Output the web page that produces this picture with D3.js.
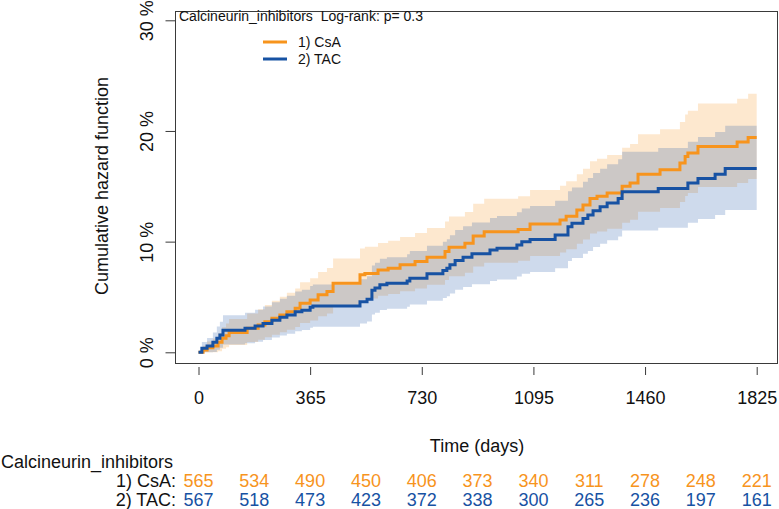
<!DOCTYPE html>
<html><head><meta charset="utf-8">
<script src="https://cdn.jsdelivr.net/npm/d3@7"></script>
<style>body{margin:0;background:#fff}svg{display:block;font-family:"Liberation Sans",Arial,sans-serif}</style>
</head><body>
<svg id="chart" width="779" height="509"></svg>
<script>
const groupTitle = "Calcineurin_inhibitors";
const pText = "Log-rank: p= 0.3";
const seriesNames = ["1) CsA", "2) TAC"];
const xTicks = [0, 365, 730, 1095, 1460, 1825];
const yTicks = [0, 10, 20, 30];
const maxTime = 1825;

const csaTime = [0,15,28,47,64,77,90,100,159,195,217,240,266,289,316,332,365,391,420,440,528,544,587,620,659,708,747,806,819,871,898,934,1045,1084,1182,1202,1237,1257,1280,1303,1336,1385,1411,1437,1509,1574,1591,1600,1633,1761,1797];
const csaHaz = [0,0.2,0.4,0.57,0.9,1.26,1.5,1.8,2.17,2.47,2.77,3.07,3.37,3.67,3.97,4.43,4.73,5.2,5.5,6.23,7.0,7.13,7.43,7.6,7.9,8.2,8.6,9.1,9.5,9.85,10.5,10.9,11.1,11.6,11.95,12.3,12.85,13.3,13.9,14.1,14.4,15.0,15.3,16.1,16.5,17.1,17.7,18.0,18.6,19.0,19.4];
const csaUpper = [0,0.6,0.97,1.25,1.75,2.27,2.6,3.0,3.5,3.88,4.27,4.65,5.02,5.39,5.76,6.32,6.69,7.25,7.61,8.48,9.38,9.53,9.88,10.08,10.43,10.78,11.24,11.81,12.27,12.67,13.42,13.87,14.1,14.67,15.06,15.46,16.08,16.58,17.26,17.48,17.82,18.49,18.82,19.71,20.16,20.82,21.49,21.82,22.48,22.92,23.36];
const csaLower = [0,0,0,0,0.09,0.31,0.46,0.66,0.92,1.13,1.36,1.58,1.81,2.04,2.28,2.64,2.88,3.26,3.51,4.11,4.75,4.86,5.11,5.26,5.51,5.77,6.11,6.54,6.88,7.18,7.75,8.09,8.27,8.71,9.01,9.32,9.8,10.2,10.73,10.91,11.17,11.71,11.98,12.69,13.05,13.59,14.12,14.39,14.93,15.29,15.66];

const tacTime = [0,11,28,47,60,70,80,152,185,211,240,266,289,316,338,365,374,528,551,567,577,593,616,682,691,747,799,812,822,839,865,894,953,976,1041,1057,1084,1166,1208,1221,1257,1273,1290,1313,1336,1372,1385,1503,1600,1633,1689,1722];
const tacHaz = [0,0.36,0.57,0.9,1.26,1.56,2.0,2.17,2.38,2.6,2.9,3.16,3.37,3.67,3.8,4.07,4.18,4.57,4.8,5.6,5.8,6.1,6.23,6.45,6.7,7.1,7.4,7.6,7.9,8.3,8.6,8.9,9.24,9.4,9.7,10.0,10.2,10.6,11.35,11.65,12.1,12.4,12.8,13.15,13.5,13.9,14.5,14.8,15.3,15.7,16.1,16.6];
const tacUpper = [0,0.93,1.29,1.8,2.33,2.75,3.34,3.57,3.85,4.13,4.52,4.85,5.11,5.49,5.65,5.99,6.12,6.6,6.88,7.85,8.09,8.45,8.6,8.86,9.16,9.63,9.98,10.22,10.57,11.04,11.39,11.73,12.13,12.31,12.66,13.0,13.23,13.69,14.55,14.89,15.4,15.75,16.2,16.59,16.99,17.44,18.12,18.45,19.02,19.46,19.91,20.47];
const tacLower = [0,0,0,0.03,0.23,0.41,0.7,0.81,0.96,1.12,1.33,1.52,1.68,1.91,2.01,2.21,2.3,2.6,2.78,3.42,3.58,3.83,3.93,4.11,4.32,4.65,4.9,5.06,5.31,5.65,5.9,6.16,6.44,6.58,6.84,7.09,7.26,7.6,8.25,8.51,8.9,9.16,9.51,9.81,10.12,10.47,11.0,11.26,11.7,12.05,12.41,12.85];

const riskTimes = [0,182.5,365,547.5,730,912.5,1095,1277.5,1460,1642.5,1825];
const csaRisk = [565,534,490,450,406,373,340,311,278,248,221];
const tacRisk = [567,518,473,423,372,338,300,265,236,197,161];

const colors = ["#F7941D", "#1752A3"];

const svg = d3.select("#chart");
const x = d3.scaleLinear().domain([0, maxTime]).range([198.5, 756.7]);
const y = d3.scaleLinear().domain([0, 30]).range([352.3, 20.3]);
const box = {l: 175.5, r: 777.5, t: 11.5, b: 363.5};

function pts(t, v) {
  const a = t.map((d, i) => ({t: d, v: v[i]}));
  a.push({t: maxTime, v: v[v.length - 1]});
  return a;
}
function bandPts(t, lo, hi) {
  const a = t.map((d, i) => ({t: d, lo: lo[i], hi: hi[i]}));
  a.push({t: maxTime, lo: lo[lo.length - 1], hi: hi[hi.length - 1]});
  return a;
}
const area = d3.area().curve(d3.curveStepAfter).x(d => x(d.t)).y0(d => y(d.lo)).y1(d => y(d.hi));
const line = d3.line().curve(d3.curveStepAfter).x(d => x(d.t)).y(d => y(d.v));

const series = [
  {time: csaTime, haz: csaHaz, lo: csaLower, hi: csaUpper},
  {time: tacTime, haz: tacHaz, lo: tacLower, hi: tacUpper}
];

series.forEach((s, i) => {
  svg.append("path").attr("d", area(bandPts(s.time, s.lo, s.hi)))
    .attr("fill", colors[i]).attr("fill-opacity", 0.21).attr("stroke", "none");
});
series.forEach((s, i) => {
  svg.append("path").attr("d", line(pts(s.time, s.haz)))
    .attr("fill", "none").attr("stroke", colors[i]).attr("stroke-width", 3);
});

// box
svg.append("rect").attr("x", box.l).attr("y", box.t).attr("width", box.r - box.l).attr("height", box.b - box.t)
  .attr("fill", "none").attr("stroke", "#3a3a3a").attr("stroke-width", 1);

// y axis
const yAxis = d3.axisLeft(y).tickValues(yTicks).tickSize(10).tickFormat(d => d + " %");
const gy = svg.append("g").attr("transform", `translate(${box.l},0)`).call(yAxis);
gy.select(".domain").remove();
gy.selectAll(".tick line").attr("stroke", "#3a3a3a");
gy.selectAll(".tick text").attr("font-size", 18).attr("fill", "#111")
  .attr("x", 0).attr("dy", 0)
  .attr("transform", "translate(-23,0) rotate(-90)")
  .attr("text-anchor", "middle");

// x axis
const xAxis = d3.axisBottom(x).tickValues(xTicks).tickSize(8).tickPadding(16).tickFormat(d3.format("d"));
const gx = svg.append("g").attr("transform", `translate(0,367)`).call(xAxis);
gx.select(".domain").remove();
gx.selectAll(".tick line").attr("stroke", "#3a3a3a");
gx.selectAll(".tick text").attr("font-size", 18).attr("fill", "#111");

// axis titles
svg.append("text").attr("transform", "translate(108,186) rotate(-90)").attr("text-anchor", "middle")
  .attr("font-size", 18).attr("fill", "#111").text("Cumulative hazard function");
svg.append("text").attr("x", 477).attr("y", 452).attr("text-anchor", "middle")
  .attr("font-size", 18).attr("fill", "#111").text("Time (days)");

// top title + legend
svg.append("text").attr("x", 179).attr("y", 21).attr("font-size", 14).attr("fill", "#111")
  .attr("xml:space", "preserve").text(groupTitle + "  " + pText);
const legY = [42, 59];
seriesNames.forEach((n, i) => {
  svg.append("line").attr("x1", 263).attr("x2", 287).attr("y1", legY[i]).attr("y2", legY[i])
    .attr("stroke", colors[i]).attr("stroke-width", 3);
  svg.append("text").attr("x", 298).attr("y", legY[i] + 5).attr("font-size", 14).attr("fill", "#111").text(n);
});

// risk table
svg.append("text").attr("x", 1).attr("y", 468).attr("font-size", 18).attr("fill", "#111").text(groupTitle);
const riskRows = [csaRisk, tacRisk];
const rowY = [487, 506];
riskRows.forEach((r, i) => {
  svg.append("text").attr("x", 176).attr("y", rowY[i]).attr("text-anchor", "end")
    .attr("font-size", 18).attr("fill", "#111").text(seriesNames[i] + ":");
  svg.selectAll(null).data(r).enter().append("text")
    .attr("x", (d, j) => x(riskTimes[j])).attr("y", rowY[i]).attr("text-anchor", "middle")
    .attr("font-size", 18).attr("fill", colors[i]).text(d => d);
});
</script>
</body></html>
